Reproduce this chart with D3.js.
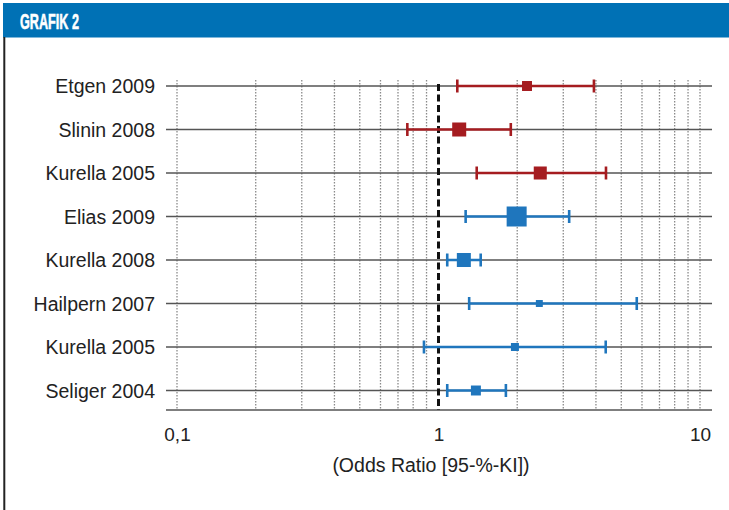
<!DOCTYPE html>
<html>
<head>
<meta charset="utf-8">
<script src="https://cdn.jsdelivr.net/npm/d3@7"></script>
<style>
  body { margin: 0; background: #fff; }
  svg { display: block; }
</style>
</head>
<body>
<svg id="chart" width="729" height="510"></svg>
<script>
// Studies, top to bottom
let studies = ["Etgen 2009", "Slinin 2008", "Kurella 2005", "Elias 2009",
               "Kurella 2008", "Hailpern 2007", "Kurella 2005", "Seliger 2004"];
let group = ["a", "a", "a", "b", "b", "b", "b", "b"];
let oddsRatio = [2.18, 1.20, 2.45, 1.99, 1.25, 2.43, 1.96, 1.39];
let ciLow = [1.18, 0.76, 1.40, 1.27, 1.08, 1.31, 0.88, 1.08];
let ciHigh = [3.93, 1.89, 4.37, 3.16, 1.45, 5.73, 4.36, 1.81];
let weight = [7.8, 15.4, 13.3, 31.4, 15.4, 3.8, 5.0, 7.8];
let tickValues = [0.1, 1, 10];
let tickLabels = ["0,1", "1", "10"];
let gridValues = [0.1, 0.2, 0.3, 0.4, 0.5, 0.6, 0.7, 0.8, 0.9, 2, 3, 4, 5, 6, 7, 8, 9, 10];

let colors = { a: "#a51c20", b: "#1f76bd" };
let font = "'Liberation Sans', Arial, Helvetica, sans-serif";

let svg = d3.select("#chart");

// Header bar
svg.append("rect")
  .attr("x", 3).attr("y", 3)
  .attr("width", 726).attr("height", 34.5)
  .attr("fill", "#0071b5");

svg.append("text")
  .text("GRAFIK 2")
  .attr("x", 20).attr("y", 28.5)
  .attr("textLength", 59)
  .attr("lengthAdjust", "spacingAndGlyphs")
  .style("font-family", "'Liberation Sans', Arial, sans-serif")
  .style("font-weight", "bold")
  .style("font-size", "22px")
  .style("fill", "#fff")
  .style("stroke", "#fff")
  .style("stroke-width", 0.6);

// left frame line
svg.append("line")
  .attr("x1", 4.3).attr("x2", 4.3)
  .attr("y1", 37).attr("y2", 510)
  .attr("stroke", "#222")
  .attr("stroke-width", 2);

// Scales
let x = d3.scaleLog()
  .domain([0.1, 10])
  .range([177, 700]);

let y = d3.scalePoint()
  .domain(d3.range(studies.length))
  .range([86, 390.5]);

let size = d3.scaleSqrt()
  .domain([0, d3.max(weight)])
  .range([0, 20]);

let lineLeft = 166, lineRight = 712, axisY = 410;

let plot = svg.append("g").attr("id", "plot");

// dotted grid
plot.append("g").selectAll("line")
  .data(gridValues)
  .join("line")
  .attr("x1", d => x(d)).attr("x2", d => x(d))
  .attr("y1", 80).attr("y2", axisY)
  .attr("stroke", "#8a8a8a")
  .attr("stroke-width", 1.3)
  .attr("stroke-dasharray", "1.5,1.5");

// row lines
plot.append("g").selectAll("line")
  .data(d3.range(studies.length))
  .join("line")
  .attr("x1", lineLeft).attr("x2", lineRight)
  .attr("y1", d => y(d)).attr("y2", d => y(d))
  .attr("stroke", "#555")
  .attr("stroke-width", 1.5);

// bottom axis
let xAxis = d3.axisBottom(x)
  .tickValues(tickValues)
  .tickFormat((d, i) => tickLabels[i])
  .tickSize(0)
  .tickPadding(18);

let xGroup = plot.append("g")
  .attr("transform", "translate(0," + axisY + ")")
  .call(xAxis);
xGroup.select(".domain").remove();
xGroup.append("line")
  .attr("x1", lineLeft).attr("x2", lineRight)
  .attr("stroke", "#555")
  .attr("stroke-width", 1.5);
xGroup.selectAll(".tick text")
  .style("font-family", font)
  .style("font-size", "19px")
  .style("fill", "#222");

// reference line at OR = 1
plot.append("line")
  .attr("x1", x(1)).attr("x2", x(1))
  .attr("y1", 84).attr("y2", axisY)
  .attr("stroke", "#111")
  .attr("stroke-width", 3)
  .attr("stroke-dasharray", "7,3.5");

// labels
plot.append("g").selectAll("text")
  .data(studies)
  .join("text")
  .text(d => d)
  .attr("x", 155)
  .attr("y", (d, i) => y(i))
  .attr("dy", "0.36em")
  .attr("text-anchor", "end")
  .style("font-family", font)
  .style("font-size", "19.5px")
  .style("fill", "#222");

// confidence intervals
let idx = d3.range(studies.length);
plot.append("g").selectAll("line")
  .data(idx)
  .join("line")
  .attr("x1", i => x(ciLow[i])).attr("x2", i => x(ciHigh[i]))
  .attr("y1", i => y(i)).attr("y2", i => y(i))
  .attr("stroke", i => colors[group[i]])
  .attr("stroke-width", 2.6);

// whisker caps
let caps = [];
idx.forEach(i => { caps.push({i: i, v: ciLow[i]}); caps.push({i: i, v: ciHigh[i]}); });
plot.append("g").selectAll("line")
  .data(caps)
  .join("line")
  .attr("x1", d => x(d.v)).attr("x2", d => x(d.v))
  .attr("y1", d => y(d.i) - 6.5).attr("y2", d => y(d.i) + 6.5)
  .attr("stroke", d => colors[group[d.i]])
  .attr("stroke-width", 2.6);

// point estimates
plot.append("g").selectAll("rect")
  .data(idx)
  .join("rect")
  .attr("x", i => x(oddsRatio[i]) - size(weight[i]) / 2)
  .attr("y", i => y(i) - size(weight[i]) / 2)
  .attr("width", i => size(weight[i]))
  .attr("height", i => size(weight[i]))
  .attr("fill", i => colors[group[i]]);

// axis title
svg.append("text")
  .text("(Odds Ratio [95-%-KI])")
  .attr("x", 431)
  .attr("y", 472)
  .attr("text-anchor", "middle")
  .style("font-family", font)
  .style("font-size", "19.5px")
  .style("fill", "#222");
</script>
</body>
</html>
